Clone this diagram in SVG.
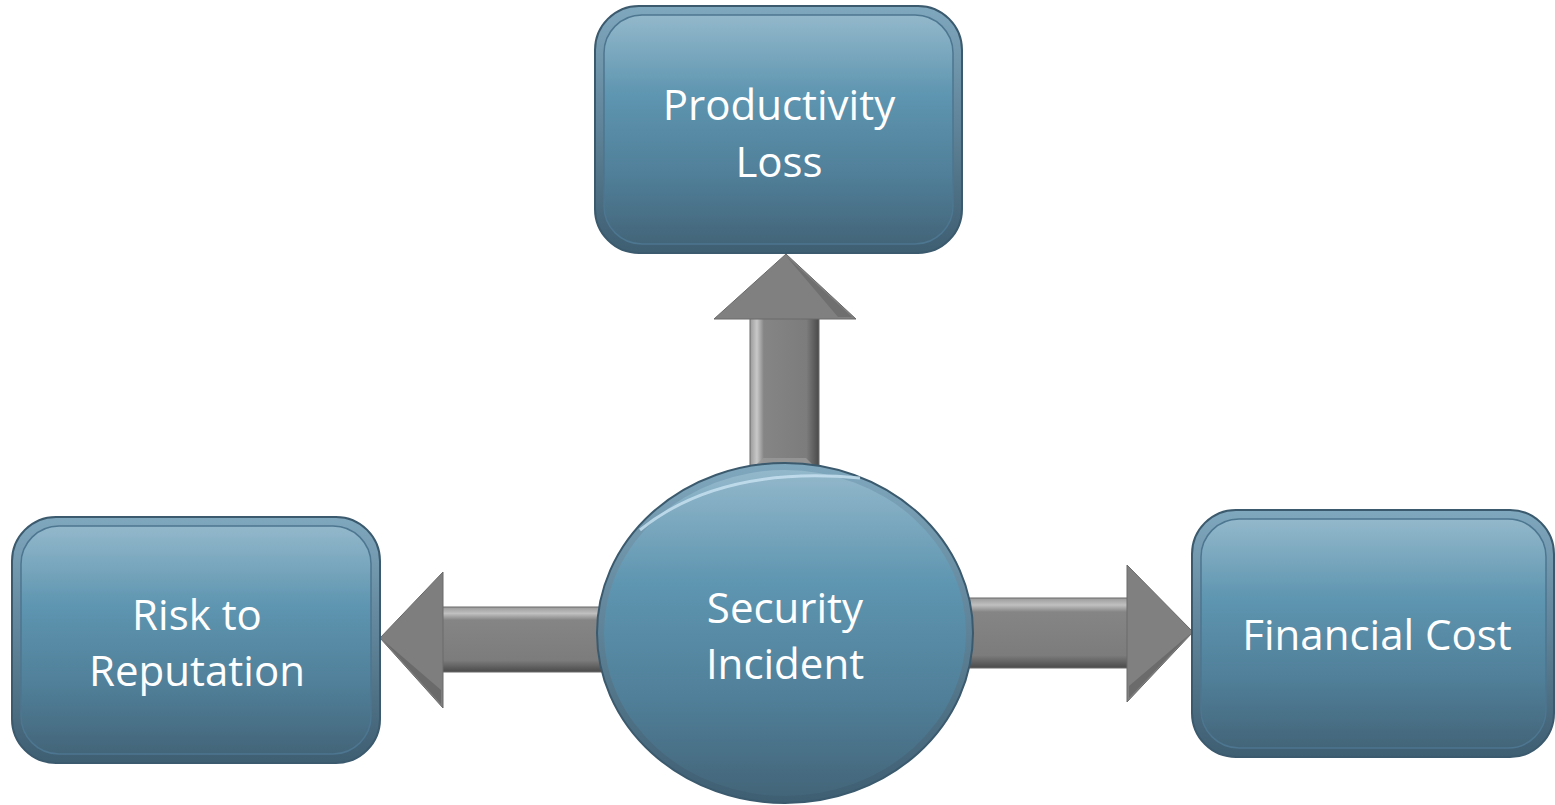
<svg xmlns="http://www.w3.org/2000/svg" width="1555" height="805" viewBox="0 0 1555 805">
<style>
.lbl{font-family:"Open Sans","Liberation Sans",sans-serif;font-size:42px;fill:#ffffff;text-anchor:middle}
.rim{fill:url(#rimG);stroke:#3b5a6e;stroke-width:2}
.face{fill:url(#faceG);stroke:#4d7690;stroke-width:1.5}
.edge{stroke:#6a6a6a;stroke-width:1}
</style>
<defs>
<linearGradient id="faceG" x1="0" y1="0" x2="0" y2="1">
<stop offset="0" stop-color="#93b8cb"/>
<stop offset="0.35" stop-color="#5e95b0"/>
<stop offset="0.7" stop-color="#507f99"/>
<stop offset="1" stop-color="#436579"/>
</linearGradient>
<linearGradient id="rimG" x1="0" y1="0" x2="0" y2="1">
<stop offset="0" stop-color="#7fa7bd"/>
<stop offset="1" stop-color="#3e5e72"/>
</linearGradient>
<linearGradient id="shaftV" x1="0" y1="0" x2="1" y2="0">
<stop offset="0" stop-color="#9a9a9a"/>
<stop offset="0.1" stop-color="#c8c8c8"/>
<stop offset="0.2" stop-color="#858585"/>
<stop offset="0.82" stop-color="#7c7c7c"/>
<stop offset="1" stop-color="#4a4a4a"/>
</linearGradient>
<linearGradient id="shaftH" x1="0" y1="0" x2="0" y2="1">
<stop offset="0" stop-color="#9a9a9a"/>
<stop offset="0.1" stop-color="#c0c0c0"/>
<stop offset="0.2" stop-color="#858585"/>
<stop offset="0.82" stop-color="#7c7c7c"/>
<stop offset="1" stop-color="#4a4a4a"/>
</linearGradient>
</defs>
<g id="connectors">
<g id="arrow-up">
<rect class="edge" x="750" y="312" width="69" height="158" fill="url(#shaftV)"/>
<path class="edge" d="M714,319 L786,254 L856,319 Z" fill="#808080"/>
<path d="M786,256 L852,317 L838,317 Z" fill="#5e5e5e" opacity="0.5"/>
<path d="M751,470 L763,458 L806,458 L818,470 Z" fill="#9a9a9a" opacity="0.8"/>
</g>
<g id="arrow-left">
<rect class="edge" x="436" y="607" width="166" height="65" fill="url(#shaftH)"/>
<path class="edge" d="M443,572 L380,638 L443,708 Z" fill="#7e7e7e"/>
<path d="M383,640 L441,704 L441,690 Z" fill="#555555" opacity="0.5"/>
</g>
<g id="arrow-right">
<rect class="edge" x="968" y="598" width="166" height="70" fill="url(#shaftH)"/>
<path class="edge" d="M1127,565 L1193,632 L1127,702 Z" fill="#808080"/>
<path d="M1190,634 L1129,698 L1129,686 Z" fill="#555555" opacity="0.5"/>
</g>
</g>
<g id="node-productivity">
<rect class="rim" x="595" y="6" width="367" height="247" rx="44"/>
<rect class="face" x="604" y="15" width="349" height="229" rx="38"/>
<text class="lbl" x="779" y="120">Productivity</text>
<text class="lbl" x="779" y="177">Loss</text>
</g>
<g id="node-reputation">
<rect class="rim" x="12" y="517" width="368" height="246" rx="44"/>
<rect class="face" x="21" y="526" width="350" height="228" rx="38"/>
<text class="lbl" x="197" y="630">Risk to</text>
<text class="lbl" x="197" y="686">Reputation</text>
</g>
<g id="node-financial">
<rect class="rim" x="1192" y="510" width="362" height="247" rx="44"/>
<rect class="face" x="1201" y="519" width="345" height="229" rx="38"/>
<text class="lbl" x="1377" y="650">Financial Cost</text>
</g>
<g id="node-incident">
<ellipse cx="785" cy="633" rx="188" ry="170" fill="url(#rimG)" stroke="#3b5a6e" stroke-width="2"/>
<ellipse cx="785" cy="633" rx="181" ry="163" fill="url(#faceG)"/>
<path d="M640,530 Q720,465 860,478" fill="none" stroke="#c9e4f2" stroke-width="3" opacity="0.8"/>
<text class="lbl" x="785" y="623">Security</text>
<text class="lbl" x="785" y="679">Incident</text>
</g>
</svg>
